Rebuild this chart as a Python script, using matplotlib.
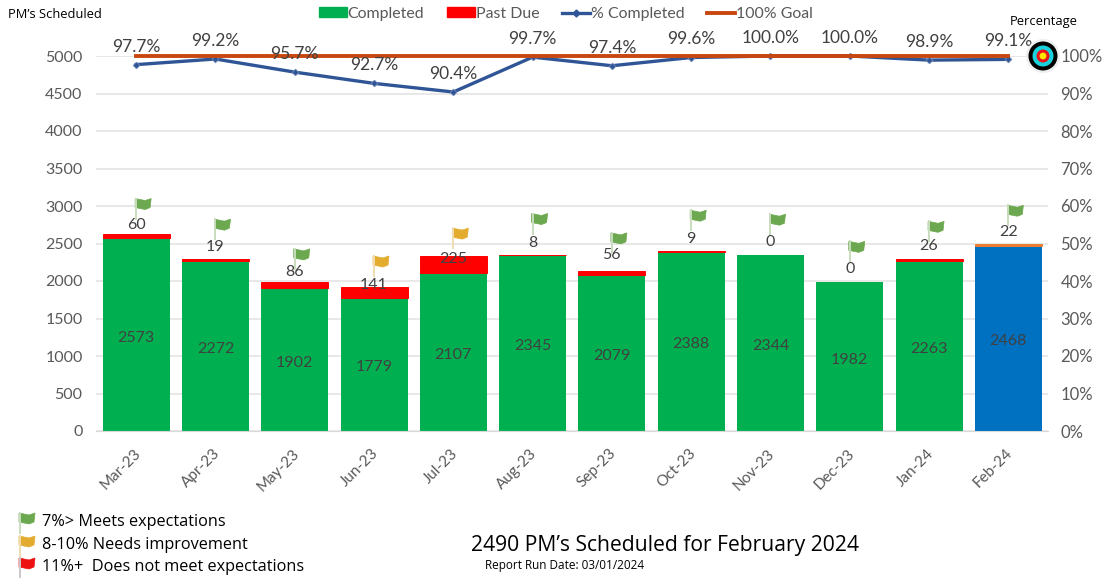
import matplotlib
matplotlib.use('Agg')
import matplotlib.pyplot as plt
from matplotlib.lines import Line2D
from matplotlib.patches import Circle, Patch, Polygon
from matplotlib.transforms import IdentityTransform, ScaledTranslation

W, H = 1107, 578

months = ['Mar-23', 'Apr-23', 'May-23', 'Jun-23', 'Jul-23', 'Aug-23',
          'Sep-23', 'Oct-23', 'Nov-23', 'Dec-23', 'Jan-24', 'Feb-24']
completed = [2573, 2272, 1902, 1779, 2107, 2345, 2079, 2388, 2344, 1982, 2263, 2468]
past_due = [60, 19, 86, 141, 225, 8, 56, 9, 0, 0, 26, 22]
pct_completed = [97.7, 99.2, 95.7, 92.7, 90.4, 99.7, 97.4, 99.6, 100.0, 100.0, 98.9, 99.1]
goal = [100] * 12
flag_status = ['g', 'g', 'g', 'y', 'y', 'g', 'g', 'g', 'g', 'g', 'g', 'g']

# pixel gaps above the bar top
label_gap = [9, 12, 10, 2, -3, 12, 16, 12, 13, 13, 13, 12]
flag_gap = [15, 20, 13, 11, 8, 21, 18, 21, 21, 21, 18, 19]

GREEN = '#00B050'
BLUE = '#0070C0'
RED = '#FF0000'
ORANGE = '#ED7D31'
LINE_BLUE = '#2F5597'
GOAL = '#C8460F'
GREY = '#595959'
TEXT = '#404040'
FLAGS = {'g': ('#6CA84F', '#C9DDBE'), 'y': ('#E3AC2F', '#F0DDB0'), 'r': ('#EE1111', '#C8C8C8')}

plt.rcParams['font.family'] = ['Lato', 'DejaVu Sans']

fig = plt.figure(figsize=(W / 100, H / 100), dpi=100)
ax = fig.add_axes([96.5 / W, 1 - 431 / H, 951.5 / W, 375 / H])
x = list(range(12))

bar_colors = [GREEN] * 11 + [BLUE]
top_colors = [RED] * 11 + [ORANGE]
top_edges = [0.7 if v > 0 else 0 for v in past_due]
ax.bar(x, completed, width=0.845, color=bar_colors, zorder=2)
ax.bar(x, past_due, width=0.845, bottom=completed, color=top_colors,
       edgecolor=top_colors, linewidth=top_edges, zorder=2)
ax.set_xlim(-0.5, 11.5)
ax.set_ylim(0, 5000)
ax.set_yticks(range(0, 5001, 500))
ax.set_xticks(x)
ax.set_xticklabels(months, rotation=45, ha='right', rotation_mode='anchor')
ax.tick_params(axis='y', length=0, labelsize=11.5, labelcolor=GREY, pad=10)
ax.tick_params(axis='x', length=0, labelsize=11, labelcolor=GREY, pad=11)
shift = ScaledTranslation(-2 / 72, 0, fig.dpi_scale_trans)
for lab in ax.get_xticklabels():
    lab.set_transform(lab.get_transform() + shift)
ax.grid(axis='y', color='#E2E2E2', linewidth=1.1, zorder=0)
ax.set_axisbelow(True)
for s in ['top', 'left', 'right']:
    ax.spines[s].set_visible(False)
ax.spines['bottom'].set_color('#D9D9D9')

ax2 = ax.twinx()
ax2.set_ylim(0, 100)
ax2.set_yticks(range(0, 101, 10))
ax2.set_yticklabels([f'{v}%' for v in range(0, 101, 10)])
ax2.tick_params(axis='y', length=0, labelsize=12, labelcolor=GREY, pad=9)
for s in ax2.spines.values():
    s.set_visible(False)
ax2.plot(x, pct_completed, color=LINE_BLUE, linewidth=2.4, marker='D', markersize=3.5,
         markeredgecolor='#8095BD', markeredgewidth=0.5, zorder=3, clip_on=False)
ax2.plot(x, goal, color=GOAL, linewidth=2.8, zorder=4, clip_on=False)

for i in x:
    ax2.annotate(f'{pct_completed[i]:.1f}%', (i, pct_completed[i]), xytext=(0, 18),
                 textcoords='offset pixels', ha='center', va='center',
                 fontsize=12.5, color=TEXT, zorder=6)
    ax.annotate(str(completed[i]), (i, completed[i] / 2), xytext=(0, -3),
                textcoords='offset pixels', ha='center', va='center',
                fontsize=11.5, color=TEXT, zorder=5)
    ax.annotate(str(past_due[i]), (i, completed[i] + past_due[i]), xytext=(0, label_gap[i]),
                textcoords='offset pixels', ha='center', va='center',
                fontsize=11.5, color=TEXT, zorder=5)


def draw_flag(px, py, status):
    # px, py = bottom of the pole, in image pixels (y down)
    main, pole = FLAGS[status]
    y0 = H - py
    fig.add_artist(Line2D([px, px], [y0, y0 + 20], color=pole, linewidth=1.4,
                          transform=IdentityTransform()))
    shape = [(-1, 20), (4, 19), (9, 18), (15, 20), (14, 11), (9, 9), (4, 10), (-1, 11)]
    fig.add_artist(Polygon([(px + a, y0 + b) for a, b in shape], closed=True, facecolor=main,
                           edgecolor=main, linewidth=0.5, transform=IdentityTransform()))


fig.canvas.draw()
for i in x:
    total = completed[i] + past_due[i]
    bx, by = ax.transData.transform((i, total))
    draw_flag(bx, H - by - flag_gap[i], flag_status[i])

# target icon at the 100% end of the goal line
for r, c in [(17, '#EFEFEF'), (14.5, '#000000'), (10.5, '#19D3DC'), (6.5, '#E8141C'), (3.4, '#FFE600')]:
    fig.add_artist(Circle((1043, H - 56), r, facecolor=c, edgecolor='none',
                          transform=IdentityTransform()))

handles = [Patch(color=GREEN), Patch(color=RED),
           Line2D([], [], color=LINE_BLUE, linewidth=2.4, marker='D', markersize=3.5),
           Line2D([], [], color=GOAL, linewidth=2.8)]
fig.legend(handles, ['Completed', 'Past Due', '% Completed', '100% Goal'], ncol=4, frameon=False,
           loc='center', bbox_to_anchor=(566 / W, 1 - 14 / H), fontsize=11.4, labelcolor=GREY,
           handlelength=1.75, handletextpad=0.05, columnspacing=1.45, handleheight=0.6)

other = ['Open Sans', 'DejaVu Sans']
fig.text(8 / W, 1 - 15 / H, 'PM\u2019s Scheduled', fontsize=9.3, color='black', va='center', family=other)
fig.text(1044 / W, 1 - 22 / H, 'Percentage', fontsize=9.3, color='black', ha='center', va='center', family=other)

legend_rows = [('g', '7%> Meets expectations', 522), ('y', '8-10% Needs improvement', 545),
               ('r', '11%+  Does not meet expectations', 567)]
for status, label, y in legend_rows:
    fig.text(42 / W, 1 - y / H, label, fontsize=11.7, color='black', va='center', family=other)
    draw_flag(20, y + 11, status)

fig.text(665 / W, 1 - 545 / H, '2490 PM\u2019s Scheduled for February 2024', fontsize=15.2,
         color='black', ha='center', va='center', family=other)
fig.text(565 / W, 1 - 565 / H, 'Report Run Date: 03/01/2024', fontsize=8.5,
         color='black', ha='center', va='center', family=other)

fig.savefig('out.png', dpi=100)
